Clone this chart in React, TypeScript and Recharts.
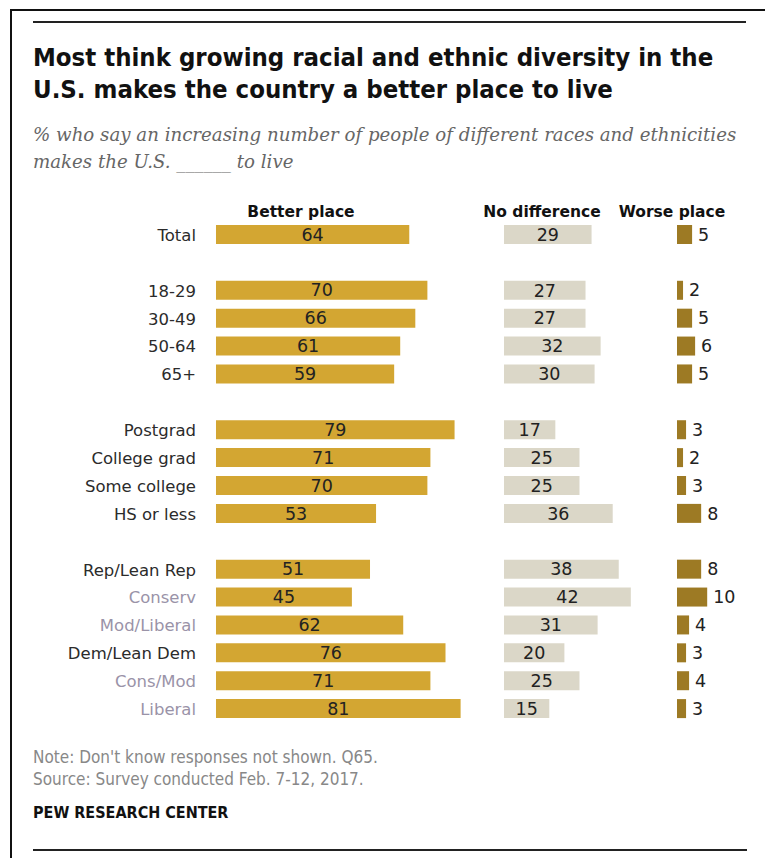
import React from "react";
import { BarChart, Bar, XAxis, YAxis, LabelList } from "recharts";

const categories = [
  "Total", "",
  "18-29", "30-49", "50-64", "65+", "",
  "Postgrad", "College grad", "Some college", "HS or less", "",
  "Rep/Lean Rep", "Conserv", "Mod/Liberal", "Dem/Lean Dem", "Cons/Mod", "Liberal",
];
const betterPlace = [64, null, 70, 66, 61, 59, null, 79, 71, 70, 53, null, 51, 45, 62, 76, 71, 81];
const noDifference = [29, null, 27, 27, 32, 30, null, 17, 25, 25, 36, null, 38, 42, 31, 20, 25, 15];
const worsePlace = [5, null, 2, 5, 6, 5, null, 3, 2, 3, 8, null, 8, 10, 4, 3, 4, 3];
const subgroupLabels = ["Conserv", "Mod/Liberal", "Cons/Mod", "Liberal"];
const seriesNames = ["Better place", "No difference", "Worse place"];

const data = categories.map((label, i) => ({
  id: i,
  label,
  better: betterPlace[i],
  none: noDifference[i],
  worse: worsePlace[i],
}));

const PX = 3.02; // pixels per percentage point
const PLOT_TOP = 220.5;
const PLOT_H = 502;
const BAR_H = 19;
const SANS = "'DejaVu Sans', 'Liberation Sans', sans-serif";
const COND = "'Liberation Sans Narrow', 'DejaVu Sans Condensed', 'DejaVu Sans', sans-serif";

const CategoryTick = (props: any) => {
  const { x, y, payload } = props;
  const label = categories[payload.value] ?? "";
  if (!label) return null;
  const isSub = subgroupLabels.includes(label);
  return (
    <text
      x={x}
      y={y}
      dy="0.36em"
      textAnchor="end"
      fontFamily={SANS}
      fontSize={16.5}
      fill={isSub ? "#9a93a8" : "#2b2b2b"}
    >
      {label}
    </text>
  );
};

const fmt = (v: any) => (v === null || v === undefined ? "" : v);

const labelStyle = { fontFamily: SANS, fontSize: 17.5, fill: "#222" };

function Column({
  left,
  maxVal,
  dataKey,
  color,
  withAxis,
  labelPos,
}: {
  left: number;
  maxVal: number;
  dataKey: string;
  color: string;
  withAxis: boolean;
  labelPos: "center" | "right";
}) {
  const axisW = withAxis ? 216 : 0;
  const w = axisW + maxVal * PX;
  return (
    <div style={{ position: "absolute", left: left - axisW, top: PLOT_TOP }}>
      <BarChart
        width={w}
        height={PLOT_H}
        data={data}
        layout="vertical"
        margin={{ top: 0, right: 0, bottom: 0, left: 0 }}
        barSize={BAR_H}
      >
        <XAxis type="number" domain={[0, maxVal]} hide />
        <YAxis
          type="category"
          dataKey="id"
          width={axisW}
          hide={!withAxis}
          axisLine={false}
          tickLine={false}
          tickSize={0}
          tickMargin={20}
          interval={0}
          tick={<CategoryTick />}
        />
        <Bar dataKey={dataKey} fill={color} isAnimationActive={false}>
          <LabelList
            dataKey={dataKey}
            position={labelPos}
            offset={labelPos === "right" ? 6 : 0}
            formatter={fmt}
            style={labelStyle}
          />
        </Bar>
      </BarChart>
    </div>
  );
}

export default function App() {
  return (
    <div
      style={{
        position: "absolute",
        left: 0,
        top: 0,
        width: 765,
        height: 858,
        background: "#fff",
        overflow: "hidden",
      }}
    >
      {/* outer frame */}
      <div
        style={{
          position: "absolute",
          left: 10,
          top: 9,
          width: 770,
          height: 860,
          borderTop: "2px solid #111",
          borderLeft: "2px solid #111",
        }}
      />
      {/* top rule */}
      <div style={{ position: "absolute", left: 33, top: 21, width: 713, height: 2, background: "#222" }} />
      {/* title */}
      <div
        style={{
          position: "absolute",
          left: 33,
          top: 41,
          width: 720,
          fontFamily: COND,
          fontWeight: "bold",
          fontSize: 25.5,
          lineHeight: "32px",
          color: "#111",
          whiteSpace: "nowrap",
        }}
      >
        Most think growing racial and ethnic diversity in the
        <br />
        U.S. makes the country a better place to live
      </div>
      {/* subtitle */}
      <div
        style={{
          position: "absolute",
          left: 33,
          top: 121,
          width: 730,
          fontFamily: "'DejaVu Serif', 'Liberation Serif', serif",
          fontStyle: "italic",
          fontSize: 18.2,
          lineHeight: "27px",
          color: "#666",
          whiteSpace: "nowrap",
        }}
      >
        % who say an increasing number of people of different races and ethnicities
        <br />
        makes the U.S. ______ to live
      </div>
      {/* column headers */}
      {[
        { name: seriesNames[0], cx: 301 },
        { name: seriesNames[1], cx: 542 },
        { name: seriesNames[2], cx: 672 },
      ].map((h) => (
        <div
          key={h.name}
          style={{
            position: "absolute",
            left: h.cx - 80,
            width: 160,
            top: 202,
            textAlign: "center",
            fontFamily: SANS,
            fontWeight: "bold",
            fontSize: 15.5,
            lineHeight: "20px",
            color: "#111",
            whiteSpace: "nowrap",
          }}
        >
          {h.name}
        </div>
      ))}

      <Column left={216} maxVal={85} dataKey="better" color="#d3a632" withAxis labelPos="center" />
      <Column left={504} maxVal={45} dataKey="none" color="#dbd7c8" withAxis={false} labelPos="center" />
      <Column left={677} maxVal={22} dataKey="worse" color="#9d7a24" withAxis={false} labelPos="right" />

      {/* notes */}
      <div
        style={{
          position: "absolute",
          left: 33,
          top: 746,
          fontFamily: COND,
          fontSize: 17,
          lineHeight: "22px",
          color: "#888",
          whiteSpace: "nowrap",
        }}
      >
        Note: Don't know responses not shown. Q65.
        <br />
        Source: Survey conducted Feb. 7-12, 2017.
      </div>
      <div
        style={{
          position: "absolute",
          left: 33,
          top: 803,
          fontFamily: COND,
          fontWeight: "bold",
          fontSize: 16,
          lineHeight: "20px",
          color: "#111",
          whiteSpace: "nowrap",
        }}
      >
        PEW RESEARCH CENTER
      </div>
      {/* bottom rule */}
      <div style={{ position: "absolute", left: 33, top: 849, width: 714, height: 2, background: "#222" }} />
    </div>
  );
}
